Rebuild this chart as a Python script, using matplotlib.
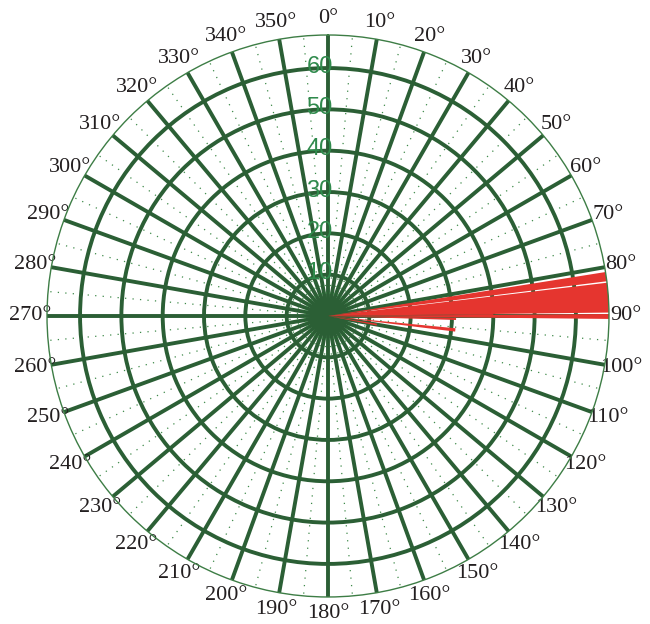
import numpy as np
import matplotlib
matplotlib.use("Agg")
import matplotlib.pyplot as plt

# Datos (sectores rojos): inicio y fin del ángulo en grados, y radio
sector_inicio = [81.0, 83.2, 89.3, 89.6, 90.8, 95.5, 99.0]
sector_fin = [82.9, 89.3, 89.6, 90.6, 91.8, 97.0, 101.0]
sector_radio = [68, 68, 40, 68, 31, 31, 12]

# Marcas de la rejilla
angulos = list(range(0, 360, 10))
etiquetas_ang = [f"{a}°" for a in angulos]
radios = [10, 20, 30, 40, 50, 60]
r_max = 68
r_centro = 4.5

verde = "#2b5f35"
verde_txt = "#2f8a4c"
rojo = "#e5352f"

fig = plt.figure(figsize=(6.5, 6.24), dpi=100)
ax = fig.add_axes([0.0723, 0.0433, 0.8646, 0.9006], projection="polar")
ax.set_theta_zero_location("N")
ax.set_theta_direction(-1)
ax.set_ylim(0, r_max)
ax.set_axisbelow(True)

# Mancha verde del centro (donde se juntan los radios)
th = np.linspace(0, 2 * np.pi, 200)
ax.fill_between(th, 0, r_centro, color=verde, linewidth=0, zorder=1)

# Sectores rojos
theta0 = np.deg2rad(sector_inicio)
anchos = np.deg2rad(np.array(sector_fin) - np.array(sector_inicio))
ax.bar(theta0, sector_radio, width=anchos, bottom=0, align="edge",
       color=rojo, edgecolor="none", zorder=2)

# Rejilla principal y secundaria
ax.set_thetagrids(angulos, etiquetas_ang, family="Liberation Serif", fontsize=16, color="#231f20")
ax.set_xticks(np.deg2rad(np.arange(5, 360, 10)), minor=True)
ax.set_rgrids(radios, labels=[""] * len(radios))
ax.xaxis.grid(True, which="major", color=verde, linewidth=2.8)
ax.xaxis.grid(True, which="minor", color="#3f8a4a", linewidth=0.9, linestyle=(0, (1, 5)))
ax.yaxis.grid(True, color=verde, linewidth=2.8)
ax.tick_params(axis="x", which="major", pad=5, length=0)
ax.tick_params(axis="x", which="minor", length=0)
ax.spines["polar"].set_color("#3d7d45")
ax.spines["polar"].set_linewidth(1.0)

# Etiquetas radiales sobre la línea de 0°
for r in radios:
    ax.annotate(str(r), xy=(0, r), xytext=(-6, 1), textcoords="offset points",
                ha="center", va="center", fontsize=17, color=verde_txt,
                family="Liberation Sans", zorder=4)

fig.savefig("out.png", dpi=100)
